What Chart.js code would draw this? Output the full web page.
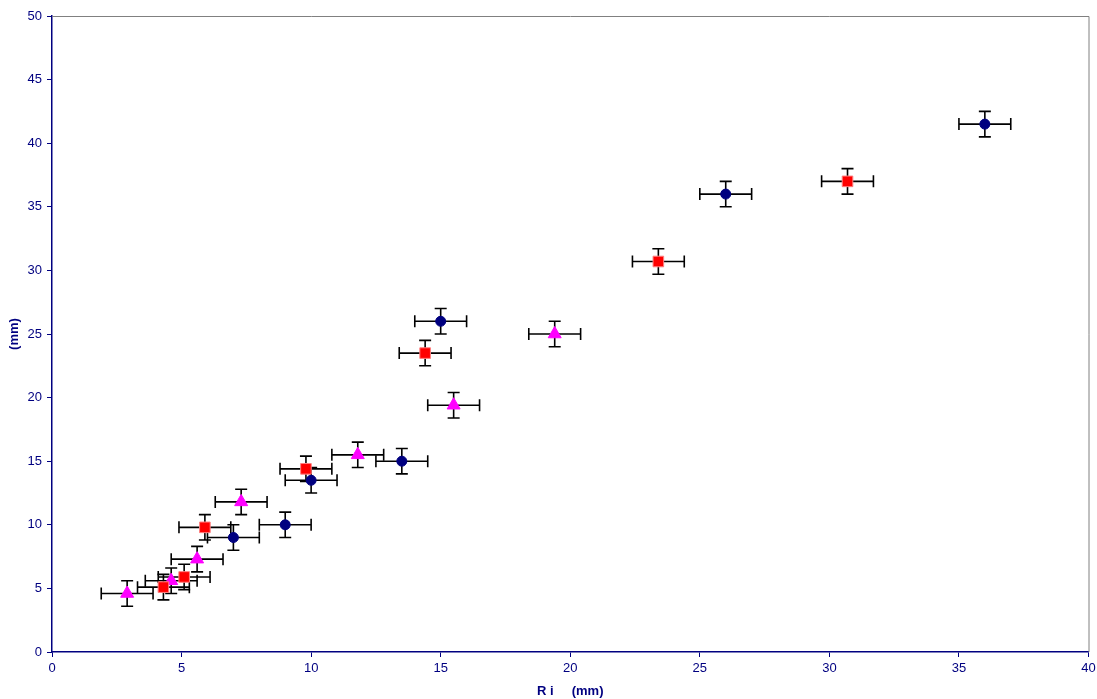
<!DOCTYPE html>
<html>
<head>
<meta charset="utf-8">
<script src="https://cdn.jsdelivr.net/npm/chart.js@4/dist/chart.umd.min.js"></script>
<style>
  html, body { margin: 0; padding: 0; background: #fff; }
  #wrap { width: 1097px; height: 699px; }
</style>
</head>
<body>
<div id="wrap"><canvas id="chart"></canvas></div>
<script>
// series values
const navyX = [7.0, 9.0, 10.0, 13.5, 15.0, 26.0, 36.0];
const navyY = [9.0, 10.0, 13.5, 15.0, 26.0, 36.0, 41.5];
const redX = [4.3, 5.1, 5.9, 9.8, 14.4, 23.4, 30.7];
const redY = [5.1, 5.9, 9.8, 14.4, 23.5, 30.7, 37.0];
const magX = [2.9, 4.6, 5.6, 7.3, 11.8, 15.5, 19.4];
const magY = [4.6, 5.6, 7.3, 11.8, 15.5, 19.4, 25.0];
// error bar half widths (same for every point)
const errX = 1;
const errY = 1;

const xTitle = 'R i     (mm)';
const yTitle = '(mm)';

const toPoints = (xs, ys) => xs.map((x, i) => ({ x: x, y: ys[i] }));

const navy = '#000080';

// black error bars with caps, drawn behind the markers
const errorBars = {
    id: 'errorBars',
    beforeDatasetsDraw(chart) {
        const ctx = chart.ctx;
        const xs = chart.scales.x, ys = chart.scales.y;
        ctx.save();
        ctx.strokeStyle = '#000';
        ctx.lineWidth = 1.6;
        chart.data.datasets.forEach(ds => {
            ds.data.forEach(p => {
                const cx = xs.getPixelForValue(p.x), cy = ys.getPixelForValue(p.y);
                const x1 = xs.getPixelForValue(p.x - errX), x2 = xs.getPixelForValue(p.x + errX);
                const y1 = ys.getPixelForValue(p.y + errY), y2 = ys.getPixelForValue(p.y - errY);
                ctx.beginPath();
                ctx.moveTo(x1, cy); ctx.lineTo(x2, cy);
                ctx.moveTo(x1, cy - 6); ctx.lineTo(x1, cy + 6);
                ctx.moveTo(x2, cy - 6); ctx.lineTo(x2, cy + 6);
                ctx.moveTo(cx, y1); ctx.lineTo(cx, y2);
                ctx.moveTo(cx - 6, y1); ctx.lineTo(cx + 6, y1);
                ctx.moveTo(cx - 6, y2); ctx.lineTo(cx + 6, y2);
                ctx.stroke();
            });
        });
        ctx.restore();
    }
};

// gray frame on the top and right of the plot area
const frame = {
    id: 'frame',
    afterDraw(chart) {
        const a = chart.chartArea, ctx = chart.ctx;
        ctx.save();
        ctx.strokeStyle = '#808080';
        ctx.lineWidth = 1;
        ctx.beginPath();
        ctx.moveTo(a.left, a.top + 0.5);
        ctx.lineTo(a.right + 0.5, a.top + 0.5);
        ctx.lineTo(a.right + 0.5, a.bottom);
        ctx.stroke();
        ctx.restore();
    }
};

const font = { family: '"Liberation Sans", Arial, sans-serif', size: 13 };

new Chart(document.getElementById('chart'), {
    type: 'scatter',
    data: {
        datasets: [
            {
                data: toPoints(navyX, navyY),
                pointStyle: 'circle', pointRadius: 5,
                backgroundColor: navy, borderColor: navy, borderWidth: 1
            },
            {
                data: toPoints(redX, redY),
                pointStyle: 'rect', pointRadius: 7.5,
                backgroundColor: '#ff0000', borderColor: '#ff8080', borderWidth: 1
            },
            {
                data: toPoints(magX, magY),
                pointStyle: 'triangle', pointRadius: 7.5,
                backgroundColor: '#ff00ff', borderColor: '#ff00ff', borderWidth: 1
            }
        ]
    },
    options: {
        responsive: true,
        maintainAspectRatio: false,
        animation: false,
        layout: { padding: { top: 16, right: 4, left: 0, bottom: 0 } },
        plugins: { legend: { display: false }, tooltip: { enabled: false } },
        scales: {
            x: {
                type: 'linear', min: 0, max: 40,
                ticks: { stepSize: 5, color: navy, font: font, padding: 4 },
                grid: { drawOnChartArea: false, drawTicks: true, tickLength: 5, color: navy },
                border: { display: true, color: navy, width: 1.5 },
                title: { display: true, text: xTitle, color: navy,
                         font: { family: font.family, size: 13, weight: 'bold' }, padding: { top: 5, bottom: 0 } },
                afterFit: s => { s.height = 47; s.paddingRight = 0; s.paddingLeft = 0; }
            },
            y: {
                type: 'linear', min: 0, max: 50,
                ticks: { stepSize: 5, color: navy, font: font, padding: 5 },
                grid: { drawOnChartArea: false, drawTicks: true, tickLength: 5, color: navy },
                border: { display: true, color: navy, width: 1.5 },
                title: { display: true, text: yTitle, color: navy,
                         font: { family: font.family, size: 13, weight: 'bold' }, padding: { top: 7, bottom: 0 } },
                afterFit: s => { s.width = 52; }
            }
        }
    },
    plugins: [errorBars, frame]
});
</script>
</body>
</html>
